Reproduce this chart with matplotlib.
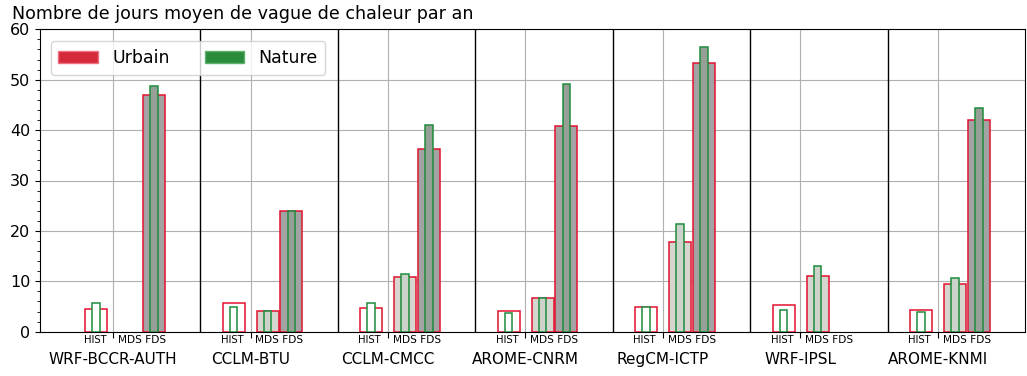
import numpy as np
import matplotlib.pyplot as plt
from matplotlib.patches import Patch
from matplotlib.ticker import MultipleLocator
import matplotlib.transforms as mtransforms

models = ['WRF-BCCR-AUTH', 'CCLM-BTU', 'CCLM-CMCC', 'AROME-CNRM',
          'RegCM-ICTP', 'WRF-IPSL', 'AROME-KNMI']
periods = ['HIST', 'MDS', 'FDS']

# nombre moyen de jours de vague de chaleur par an (nan = pas de donnees)
urbain_hist = [4.6, 5.7, 4.8, 4.1, 5.0, 5.3, 4.4]
urbain_mds = [np.nan, 4.1, 10.8, 6.6, 17.7, 11.0, 9.5]
urbain_fds = [46.9, 24.0, 36.2, 40.8, 53.3, np.nan, 42.0]

nature_hist = [5.7, 5.0, 5.7, 3.8, 5.0, 4.4, 4.0]
nature_mds = [np.nan, 4.1, 11.5, 6.6, 21.4, 13.0, 10.6]
nature_fds = [48.7, 24.0, 41.1, 49.1, 56.4, np.nan, 44.3]

urbain = {'HIST': urbain_hist, 'MDS': urbain_mds, 'FDS': urbain_fds}
nature = {'HIST': nature_hist, 'MDS': nature_mds, 'FDS': nature_fds}

offsets = {'HIST': 0.244, 'MDS': 0.491, 'FDS': 0.665}
faces = {'HIST': 'white', 'MDS': '#d6d6cf', 'FDS': '#a3a3a3'}
faces_nat = {'HIST': 'white', 'MDS': '#cdd3cb', 'FDS': '#96a096'}
tick_off = 0.367

red = '#e3122f'
green = '#1c8c3c'

fig = plt.figure(figsize=(10.27, 3.76), dpi=100)
ax = fig.add_axes([40 / 1027, 1 - 331.7 / 376, 985 / 1027, 302.4 / 376])

x0 = np.arange(len(models))
for p in periods:
    ax.bar(x0 + offsets[p], urbain[p], width=0.16, facecolor=faces[p],
           edgecolor=red, linewidth=1.1, zorder=3)
    ax.bar(x0 + offsets[p], nature[p], width=0.055, facecolor=faces_nat[p],
           edgecolor=green, linewidth=1.1, zorder=4)

# separations entre modeles
for i in range(1, len(models)):
    ax.axvline(i, color='black', linewidth=1.0, zorder=2)

ax.set_xlim(-0.164, 7.0)
ax.set_ylim(0, 60)
ax.yaxis.set_major_locator(MultipleLocator(10))
ax.yaxis.set_minor_locator(MultipleLocator(2))
ax.set_xticks(x0 + tick_off)
ax.set_xticklabels([])
ax.tick_params(axis='y', labelsize=11.5)
ax.tick_params(axis='x', length=4)
ax.grid(True, color='#b0b0b0', linewidth=0.8, zorder=0)
ax.set_axisbelow(True)

trans = mtransforms.blended_transform_factory(ax.transData, ax.transAxes)
for i, m in enumerate(models):
    xt = i + tick_off
    ax.text(xt - 0.05, -0.012, 'HIST', transform=trans, ha='right', va='top',
            fontsize=7.2)
    ax.text(xt + 0.036, -0.012, 'MDS FDS', transform=trans, ha='left', va='top',
            fontsize=7.6)
    ax.text(xt, -0.066, m, transform=trans, ha='center', va='top', fontsize=11)

fig.text(12 / 1027, 1 - 14 / 376, 'Nombre de jours moyen de vague de chaleur par an',
         ha='left', va='center', fontsize=12.6)

handles = [Patch(facecolor='#d42a3a', edgecolor='#f07080', label='Urbain'),
           Patch(facecolor='#2a8c3a', edgecolor='#60b070', label='Nature')]
ax.legend(handles=handles, loc='upper left', ncol=2, fontsize=12.5,
          handlelength=2.3, columnspacing=2.0, borderpad=0.45,
          bbox_to_anchor=(0.002, 0.99))

fig.savefig('out.png', dpi=100)
